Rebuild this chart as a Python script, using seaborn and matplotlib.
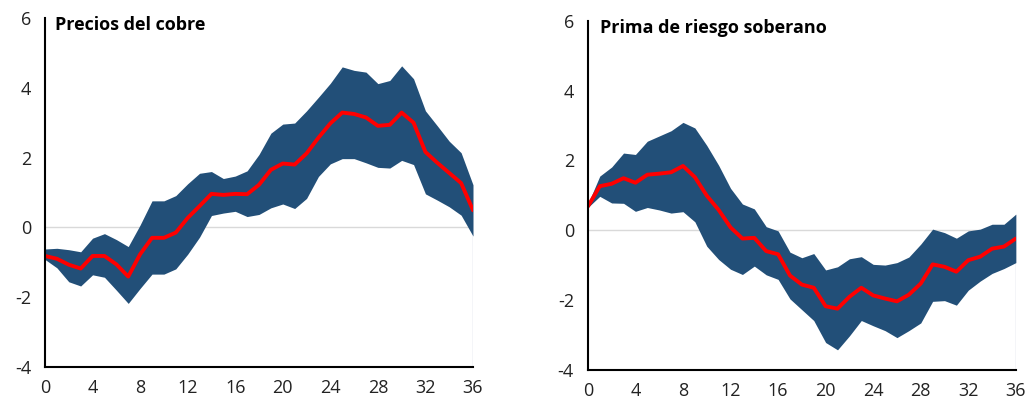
import numpy as np
import pandas as pd
import seaborn as sns
import matplotlib
matplotlib.use("Agg")
import matplotlib.pyplot as plt

## datos (horizonte 0..36)
horizon = list(range(37))

cobre_mean = [-0.82, -0.9, -1.07, -1.18, -0.82, -0.82, -1.06, -1.41, -0.77, -0.3,
              -0.3, -0.15, 0.27, 0.61, 0.96, 0.93, 0.96, 0.95, 1.22, 1.65,
              1.83, 1.8, 2.12, 2.57, 2.98, 3.29, 3.25, 3.15, 2.91, 2.94,
              3.29, 3.0, 2.16, 1.85, 1.56, 1.27, 0.49]
cobre_upper = [-0.62, -0.6, -0.64, -0.7, -0.31, -0.18, -0.35, -0.55, 0.07, 0.76,
               0.76, 0.91, 1.25, 1.55, 1.6, 1.4, 1.47, 1.62, 2.09, 2.7,
               2.96, 2.99, 3.34, 3.73, 4.13, 4.6, 4.5, 4.45, 4.12, 4.21,
               4.63, 4.26, 3.34, 2.91, 2.47, 2.14, 1.22]
cobre_lower = [-0.92, -1.16, -1.56, -1.68, -1.36, -1.43, -1.8, -2.18, -1.75, -1.34,
               -1.34, -1.19, -0.77, -0.28, 0.34, 0.41, 0.46, 0.31, 0.37, 0.56,
               0.67, 0.54, 0.83, 1.46, 1.82, 1.97, 1.97, 1.85, 1.72, 1.7,
               1.92, 1.8, 0.96, 0.78, 0.59, 0.35, -0.25]

prima_mean = [0.68, 1.26, 1.33, 1.49, 1.36, 1.59, 1.62, 1.66, 1.84, 1.52,
              0.99, 0.58, 0.08, -0.24, -0.22, -0.6, -0.69, -1.3, -1.56, -1.65,
              -2.18, -2.25, -1.91, -1.65, -1.87, -1.96, -2.04, -1.85, -1.53, -0.98,
              -1.05, -1.19, -0.86, -0.76, -0.53, -0.47, -0.24]
prima_upper = [0.75, 1.55, 1.81, 2.21, 2.17, 2.55, 2.7, 2.85, 3.09, 2.93,
               2.43, 1.86, 1.2, 0.75, 0.61, 0.1, -0.02, -0.63, -0.79, -0.67,
               -1.14, -1.05, -0.82, -0.76, -0.98, -1.0, -0.93, -0.77, -0.4, 0.03,
               -0.07, -0.23, -0.02, 0.03, 0.17, 0.17, 0.46]
prima_lower = [0.65, 0.97, 0.78, 0.77, 0.54, 0.65, 0.58, 0.49, 0.53, 0.24,
               -0.46, -0.84, -1.12, -1.27, -1.03, -1.28, -1.41, -1.97, -2.28, -2.59,
               -3.22, -3.43, -3.03, -2.59, -2.74, -2.88, -3.08, -2.88, -2.66, -2.04,
               -2.02, -2.15, -1.72, -1.46, -1.24, -1.1, -0.93]

titles = ["Precios del cobre", "Prima de riesgo soberano"]

BAND = "#224F78"
RED = "#FF0000"

sns.set_style("white")
plt.rcParams["font.family"] = ["Open Sans", "DejaVu Sans"]
plt.rcParams["axes.unicode_minus"] = False

fig = plt.figure(figsize=(10.35, 4.01), dpi=100)
ax1 = fig.add_axes([0.0435, 0.085, 0.4135, 0.870])
ax2 = fig.add_axes([0.568, 0.078, 0.4135, 0.870])

panels = [
    (ax1, cobre_mean, cobre_lower, cobre_upper, titles[0], 0.8),
    (ax2, prima_mean, prima_lower, prima_upper, titles[1], 1.0),
]

for ax, mean, lower, upper, title, tx in panels:
    df = pd.DataFrame({"h": horizon, "mean": mean, "lo": lower, "hi": upper})
    ax.axhline(0, color="#d9d9d9", lw=1.0, zorder=0)
    ax.vlines(36, -4, df["hi"].iloc[-1], color="#c8d0dc", lw=1.0, zorder=0)
    ax.fill_between(df["h"], df["lo"], df["hi"], color=BAND, lw=0, zorder=1)
    sns.lineplot(data=df, x="h", y="mean", color=RED, lw=2.8, ax=ax, zorder=2)

    ax.set_xlim(0, 36)
    ax.set_ylim(-4, 6)
    ax.set_xticks(range(0, 37, 4))
    ax.set_yticks(range(-4, 7, 2))
    ax.set_xlabel("")
    ax.set_ylabel("")
    sns.despine(ax=ax)
    for s in ["left", "bottom"]:
        ax.spines[s].set_color("black")
        ax.spines[s].set_linewidth(1.5)
    ax.tick_params(axis="both", which="both", direction="out", length=5,
                   width=1.5, color="black", labelsize=13, labelcolor="#222222")
    ax.tick_params(axis="y", length=4, pad=6)
    ax.tick_params(axis="x", pad=4)
    ax.text(tx, 5.8, title, ha="left", va="center",
            fontsize=13, fontweight="bold", color="black")

fig.savefig("out.png", dpi=100)
